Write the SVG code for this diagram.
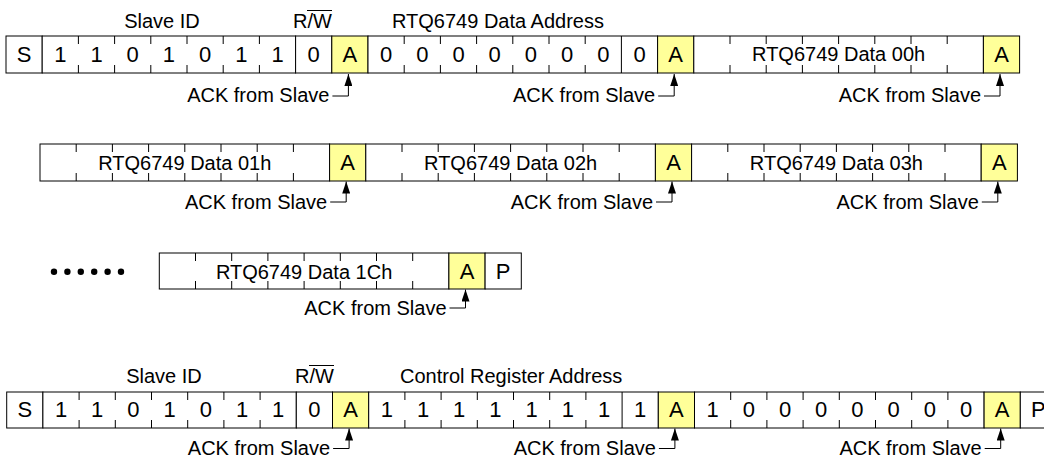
<svg xmlns="http://www.w3.org/2000/svg" width="1044" height="460" viewBox="0 0 1044 460">
<style>
.bx{fill:#fff;stroke:#000;stroke-width:1}
.ak{fill:#ffff99;stroke:#000;stroke-width:1}
.ln{fill:none;stroke:#000;stroke-width:1}
text{font-family:"Liberation Sans",Arial,sans-serif;font-size:20px;fill:#000}
.c{text-anchor:middle}
.b{text-anchor:middle;font-size:22px}
.e{text-anchor:end}
.conn{fill:none;stroke:#000;stroke-width:1;marker-end:url(#ah)}
</style>
<defs>
<marker id="ah" viewBox="0 0 12 8" refX="12" refY="4" markerWidth="12" markerHeight="8" markerUnits="userSpaceOnUse" orient="auto">
<path d="M0,0 L12,4 L0,8 z" fill="#000"/>
</marker>
</defs>
<rect width="1044" height="460" fill="#fff"/>

<!-- Row 1 -->
<g id="r1-labels">
<text x="162" y="28" class="c">Slave ID</text>
<text x="293" y="28">R/W</text>
<line x1="307" y1="10.5" x2="332" y2="10.5" class="ln"/>
<text x="392" y="27.5">RTQ6749 Data Address</text>
</g>
<g id="r1-start"><rect x="6" y="36" width="36.2" height="37" class="bx"/><text x="24.1" y="62" class="b">S</text></g>
<g id="r1-slaveid">
<rect x="42.2" y="36" width="253.4" height="37" class="bx"/>
<path d="M78.4,36v8M78.4,65v8M114.6,36v8M114.6,65v8M150.8,36v8M150.8,65v8M187,36v8M187,65v8M223.2,36v8M223.2,65v8M259.4,36v8M259.4,65v8" class="ln"/>
<text x="60.3" y="62" class="b">1</text><text x="96.5" y="62" class="b">1</text><text x="132.7" y="62" class="b">0</text><text x="168.9" y="62" class="b">1</text><text x="205.1" y="62" class="b">0</text><text x="241.3" y="62" class="b">1</text><text x="277.5" y="62" class="b">1</text>
</g>
<g id="r1-rw"><rect x="295.6" y="36" width="36.2" height="37" class="bx"/><text x="313.7" y="62" class="b">0</text></g>
<g id="r1-ack1"><rect x="331.8" y="36" width="36.2" height="37" class="ak"/><text x="349.9" y="62" class="b">A</text></g>
<g id="r1-addr">
<rect x="368" y="36" width="289.6" height="37" class="bx"/>
<path d="M404.2,36v8M404.2,65v8M440.4,36v8M440.4,65v8M476.6,36v8M476.6,65v8M512.8,36v8M512.8,65v8M549,36v8M549,65v8M585.2,36v8M585.2,65v8M621.4,36v37" class="ln"/>
<text x="386.1" y="62" class="b">0</text><text x="422.3" y="62" class="b">0</text><text x="458.5" y="62" class="b">0</text><text x="494.7" y="62" class="b">0</text><text x="530.9" y="62" class="b">0</text><text x="567.1" y="62" class="b">0</text><text x="603.3" y="62" class="b">0</text><text x="639.5" y="62" class="b">0</text>
</g>
<g id="r1-ack2"><rect x="657.6" y="36" width="36.2" height="37" class="ak"/><text x="675.7" y="62" class="b">A</text></g>
<g id="r1-data00">
<rect x="693.8" y="36" width="289.6" height="37" class="bx"/>
<path d="M730,36v8M730,65v8M766.2,36v8M766.2,65v8M802.4,36v8M802.4,65v8M838.6,36v8M838.6,65v8M874.8,36v8M874.8,65v8M911,36v8M911,65v8M947.2,36v8M947.2,65v8" class="ln"/>
<text x="838.6" y="61" class="c">RTQ6749 Data 00h</text>
</g>
<g id="r1-ack3"><rect x="983.4" y="36" width="36.2" height="37" class="ak"/><text x="1001.5" y="62" class="b">A</text></g>
<g id="r1-ack-labels">
<text x="329.4" y="101.5" class="e">ACK from Slave</text>
<text x="655.2" y="101.5" class="e">ACK from Slave</text>
<text x="981" y="101.5" class="e">ACK from Slave</text>
</g>

<!-- Row 2 -->
<g id="r2-data01">
<rect x="40" y="144" width="289.6" height="37" class="bx"/>
<path d="M76.2,144v8M76.2,173v8M112.4,144v8M112.4,173v8M148.6,144v8M148.6,173v8M184.8,144v8M184.8,173v8M221,144v8M221,173v8M257.2,144v8M257.2,173v8M293.4,144v8M293.4,173v8" class="ln"/>
<text x="184.8" y="169.5" class="c">RTQ6749 Data 01h</text>
</g>
<g id="r2-ack1"><rect x="329.6" y="144" width="36.2" height="37" class="ak"/><text x="347.7" y="170" class="b">A</text></g>
<g id="r2-data02">
<rect x="365.8" y="144" width="289.6" height="37" class="bx"/>
<path d="M402,144v8M402,173v8M438.2,144v8M438.2,173v8M474.4,144v8M474.4,173v8M510.6,144v8M510.6,173v8M546.8,144v8M546.8,173v8M583,144v8M583,173v8M619.2,144v8M619.2,173v8" class="ln"/>
<text x="510.6" y="169.5" class="c">RTQ6749 Data 02h</text>
</g>
<g id="r2-ack2"><rect x="655.4" y="144" width="36.2" height="37" class="ak"/><text x="673.5" y="170" class="b">A</text></g>
<g id="r2-data03">
<rect x="691.6" y="144" width="289.6" height="37" class="bx"/>
<path d="M727.8,144v8M727.8,173v8M764,144v8M764,173v8M800.2,144v8M800.2,173v8M836.4,144v8M836.4,173v8M872.6,144v8M872.6,173v8M908.8,144v8M908.8,173v8M945,144v8M945,173v8" class="ln"/>
<text x="836.4" y="169.5" class="c">RTQ6749 Data 03h</text>
</g>
<g id="r2-ack3"><rect x="981.2" y="144" width="36.2" height="37" class="ak"/><text x="999.3" y="170" class="b">A</text></g>
<g id="r2-ack-labels">
<text x="327.2" y="208.5" class="e">ACK from Slave</text>
<text x="653" y="208.5" class="e">ACK from Slave</text>
<text x="978.8" y="208.5" class="e">ACK from Slave</text>
</g>

<!-- Row 3 -->
<g id="r3-dots" fill="#000">
<circle cx="54" cy="271.7" r="3.2"/><circle cx="67.4" cy="271.7" r="3.2"/><circle cx="80.8" cy="271.7" r="3.2"/><circle cx="94.2" cy="271.7" r="3.2"/><circle cx="107.6" cy="271.7" r="3.2"/><circle cx="121" cy="271.7" r="3.2"/>
</g>
<g id="r3-data1c">
<rect x="159.3" y="253" width="289.6" height="36" class="bx"/>
<path d="M195.5,253v8M195.5,281v8M231.7,253v8M231.7,281v8M267.9,253v8M267.9,281v8M304.1,253v8M304.1,281v8M340.3,253v8M340.3,281v8M376.5,253v8M376.5,281v8M412.7,253v8M412.7,281v8" class="ln"/>
<text x="304.1" y="278.5" class="c">RTQ6749 Data 1Ch</text>
</g>
<g id="r3-ack"><rect x="448.9" y="253" width="36.2" height="36" class="ak"/><text x="467" y="278.5" class="b">A</text></g>
<g id="r3-stop"><rect x="485.1" y="253" width="36.2" height="36" class="bx"/><text x="503.2" y="278.5" class="b">P</text></g>
<g id="r3-ack-labels">
<text x="446.5" y="315" class="e">ACK from Slave</text>
</g>

<!-- Row 4 -->
<g id="r4-labels">
<text x="164" y="383" class="c">Slave ID</text>
<text x="295" y="383">R/W</text>
<line x1="309" y1="365.5" x2="334" y2="365.5" class="ln"/>
<text x="400" y="382.5">Control Register Address</text>
</g>
<g id="r4-start"><rect x="6.7" y="392" width="36.2" height="36" class="bx"/><text x="24.8" y="417" class="b">S</text></g>
<g id="r4-slaveid">
<rect x="42.9" y="392" width="253.4" height="36" class="bx"/>
<path d="M79.1,392v8M79.1,420v8M115.3,392v8M115.3,420v8M151.5,392v8M151.5,420v8M187.7,392v8M187.7,420v8M223.9,392v8M223.9,420v8M260.1,392v8M260.1,420v8" class="ln"/>
<text x="61" y="417" class="b">1</text><text x="97.2" y="417" class="b">1</text><text x="133.4" y="417" class="b">0</text><text x="169.6" y="417" class="b">1</text><text x="205.8" y="417" class="b">0</text><text x="242" y="417" class="b">1</text><text x="278.2" y="417" class="b">1</text>
</g>
<g id="r4-rw"><rect x="296.3" y="392" width="36.2" height="36" class="bx"/><text x="314.4" y="417" class="b">0</text></g>
<g id="r4-ack1"><rect x="332.5" y="392" width="36.2" height="36" class="ak"/><text x="350.6" y="417" class="b">A</text></g>
<g id="r4-addr">
<rect x="368.7" y="392" width="289.6" height="36" class="bx"/>
<path d="M404.9,392v8M404.9,420v8M441.1,392v8M441.1,420v8M477.3,392v8M477.3,420v8M513.5,392v8M513.5,420v8M549.7,392v8M549.7,420v8M585.9,392v8M585.9,420v8M622.1,392v36" class="ln"/>
<text x="386.8" y="417" class="b">1</text><text x="423" y="417" class="b">1</text><text x="459.2" y="417" class="b">1</text><text x="495.4" y="417" class="b">1</text><text x="531.6" y="417" class="b">1</text><text x="567.8" y="417" class="b">1</text><text x="604" y="417" class="b">1</text><text x="640.2" y="417" class="b">1</text>
</g>
<g id="r4-ack2"><rect x="658.3" y="392" width="36.2" height="36" class="ak"/><text x="676.4" y="417" class="b">A</text></g>
<g id="r4-data">
<rect x="694.5" y="392" width="289.6" height="36" class="bx"/>
<path d="M730.7,392v8M730.7,420v8M766.9,392v8M766.9,420v8M803.1,392v8M803.1,420v8M839.3,392v8M839.3,420v8M875.5,392v8M875.5,420v8M911.7,392v8M911.7,420v8M947.9,392v8M947.9,420v8" class="ln"/>
<text x="712.6" y="417" class="b">1</text><text x="748.8" y="417" class="b">0</text><text x="785" y="417" class="b">0</text><text x="821.2" y="417" class="b">0</text><text x="857.4" y="417" class="b">0</text><text x="893.6" y="417" class="b">0</text><text x="929.8" y="417" class="b">0</text><text x="966" y="417" class="b">0</text>
</g>
<g id="r4-ack3"><rect x="984.1" y="392" width="36.2" height="36" class="ak"/><text x="1002.2" y="417" class="b">A</text></g>
<g id="r4-stop"><rect x="1020.3" y="392" width="36.2" height="36" class="bx"/><text x="1038.4" y="417" class="b">P</text></g>
<g id="r4-ack-labels">
<text x="330.1" y="455" class="e">ACK from Slave</text>
<text x="655.9" y="455" class="e">ACK from Slave</text>
<text x="981.7" y="455" class="e">ACK from Slave</text>
</g>

<!-- Connectors -->
<g id="connectors">
<path d="M332.4,96H348.4V74" class="conn"/>
<path d="M658.2,96H674.2V74" class="conn"/>
<path d="M984,96H1000V74" class="conn"/>
<path d="M330.2,202H346.2V181.5" class="conn"/>
<path d="M656,202H672V181.5" class="conn"/>
<path d="M981.8,202H997.8V181.5" class="conn"/>
<path d="M449.5,308H465.5V289.5" class="conn"/>
<path d="M333.1,448.5H349.1V428.5" class="conn"/>
<path d="M658.9,448.5H674.9V428.5" class="conn"/>
<path d="M984.7,448.5H1000.7V428.5" class="conn"/>
</g>
</svg>
